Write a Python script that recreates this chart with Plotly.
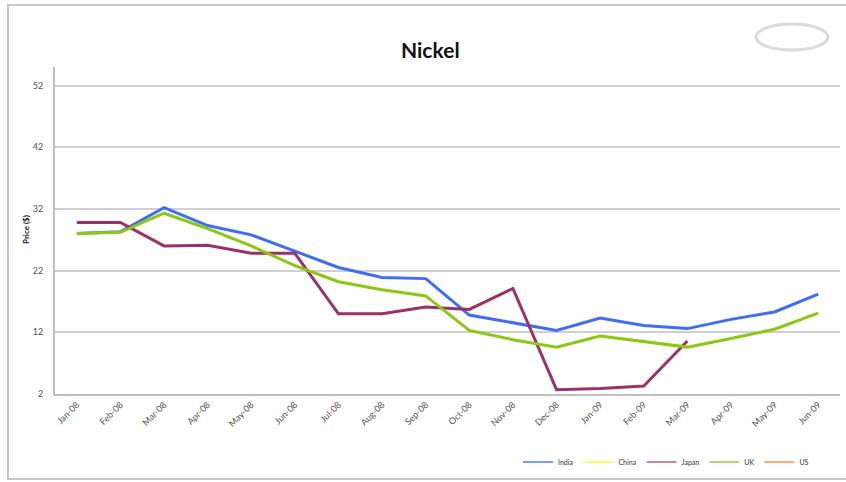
import plotly.graph_objects as go

months = ["Jan-08", "Feb-08", "Mar-08", "Apr-08", "May-08", "Jun-08", "Jul-08", "Aug-08",
          "Sep-08", "Oct-08", "Nov-08", "Dec-08", "Jan-09", "Feb-09", "Mar-09", "Apr-09",
          "May-09", "Jun-09"]
india = [28.0, 28.3, 32.2, 29.3, 27.8, 25.1, 22.5, 20.9, 20.7, 14.8, 13.5, 12.3, 14.3, 13.1,
         12.6, 14.1, 15.3, 18.2]
china = [None] * 18
japan = [29.8, 29.8, 26.0, 26.1, 24.8, 24.8, 15.0, 15.0, 16.1, 15.7, 19.1, 2.7, 2.9, 3.3,
         10.6, None, None, None]
uk = [28.0, 28.2, 31.3, 28.8, 26.0, 22.8, 20.2, 18.9, 17.9, 12.3, 10.8, 9.6, 11.4, 10.5,
      9.6, 11.0, 12.5, 15.1]
us = [None] * 18
y_ticks = [2, 12, 22, 32, 42, 52]

W, H = 846, 482
L, R, T, B = 55, 6, 67, 88
pw, ph = W - L - R, H - T - B


def px(x):
    return (x - L) / pw


def py(y):
    return (H - B - y) / ph


fig = go.Figure()
series = [("India", india, "#3F6EF2", "#7B9CF5"), ("China", china, "#FFFF00", "#FFFF66"),
          ("Japan", japan, "#993366", "#C48AA8"), ("UK", uk, "#8CC716", "#B5DA6A"),
          ("US", us, "#FF9955", "#FFAA77")]
for name, vals, col, lcol in series:
    fig.add_trace(go.Scatter(x=months, y=vals, name=name, mode="lines", showlegend=False,
                             line=dict(color=col, width=3), connectgaps=False))
for name, vals, col, lcol in series:
    fig.add_trace(go.Scatter(x=[months[0]], y=[None], name=name, mode="lines",
                             line=dict(color=lcol, width=2), hoverinfo="skip"))

fig.update_layout(
    width=W, height=H,
    margin=dict(l=L, r=R, t=T, b=B),
    paper_bgcolor="white", plot_bgcolor="white",
    font=dict(family="Lato, Open Sans, sans-serif", color="#444"),
    showlegend=True,
    legend=dict(orientation="h", x=px(518), y=py(462), xanchor="left", yanchor="middle",
                font=dict(size=7, color="#333"), itemwidth=30, tracegroupgap=0,
                bgcolor="rgba(0,0,0,0)"),
    xaxis=dict(type="category", range=[-0.5, 17.5], showgrid=False,
               showline=True, linecolor="#BFBFBF", linewidth=2,
               tickangle=-45, tickfont=dict(size=9, color="#505050"), ticks="",
               fixedrange=True),
    yaxis=dict(range=[2, 55], tickvals=y_ticks, showgrid=True, gridcolor="#D0D0D0",
               gridwidth=2, showline=True, linecolor="#BFBFBF", linewidth=2,
               zeroline=False, tickfont=dict(size=9, color="#505050"), ticks="",
               ticklabelstandoff=8),
    annotations=[
        dict(text="<b>Nickel</b>", x=px(430), y=py(35), xref="paper", yref="paper",
             showarrow=False, font=dict(size=21, color="#111", family="Lato, sans-serif")),
        dict(text="<b>Price ($)</b>", x=px(19), y=py(230), xref="paper", yref="paper",
             showarrow=False, textangle=-90, font=dict(size=8, color="#111")),
    ],
    shapes=[
        dict(type="rect", xref="paper", yref="paper", x0=px(8), x1=px(850), y0=py(479),
             y1=py(5), line=dict(color="#C8C8C8", width=2), layer="below"),
        dict(type="circle", xref="paper", yref="paper", x0=px(756), x1=px(828), y0=py(50),
             y1=py(24), line=dict(color="#DADADA", width=3)),
    ],
)

fig.write_html("out.html")
